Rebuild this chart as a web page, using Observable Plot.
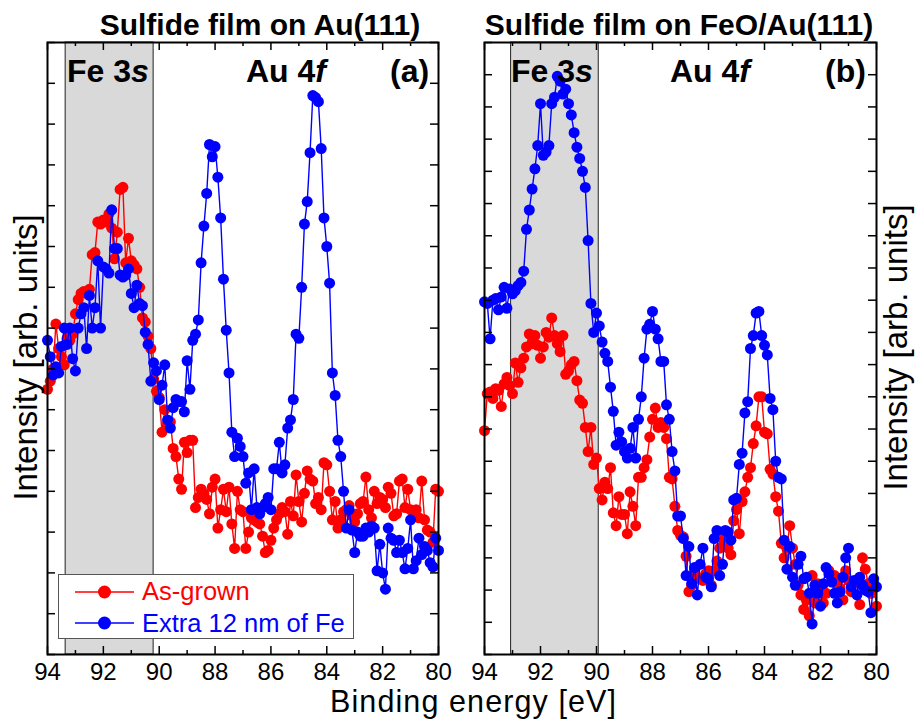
<!DOCTYPE html>
<html><head><meta charset="utf-8">
<script src="https://cdn.jsdelivr.net/npm/d3@7"></script>
<script src="https://cdn.jsdelivr.net/npm/@observablehq/plot@0.6"></script>
<style>
body{margin:0;background:#fff;font-family:"Liberation Sans",Arial,sans-serif;}
#wrap{position:relative;width:915px;height:719px;overflow:hidden;background:#fff;}
.abs{position:absolute;line-height:1;white-space:nowrap;color:#000;}
</style></head><body><div id="wrap"></div>
<script>
// Binding energy grid (eV)
const energy = [
 94.0,93.9,93.8,93.7,93.6,93.5,93.4,93.3,93.2,93.1,
 93.0,92.9,92.8,92.7,92.6,92.5,92.4,92.3,92.2,92.1,
 92.0,91.9,91.8,91.7,91.6,91.5,91.4,91.3,91.2,91.1,
 91.0,90.9,90.8,90.7,90.6,90.5,90.4,90.3,90.2,90.1,
 90.0,89.9,89.8,89.7,89.6,89.5,89.4,89.3,89.2,89.1,
 89.0,88.9,88.8,88.7,88.6,88.5,88.4,88.3,88.2,88.1,
 88.0,87.9,87.8,87.7,87.6,87.5,87.4,87.3,87.2,87.1,
 87.0,86.9,86.8,86.7,86.6,86.5,86.4,86.3,86.2,86.1,
 86.0,85.9,85.8,85.7,85.6,85.5,85.4,85.3,85.2,85.1,
 85.0,84.9,84.8,84.7,84.6,84.5,84.4,84.3,84.2,84.1,
 84.0,83.9,83.8,83.7,83.6,83.5,83.4,83.3,83.2,83.1,
 83.0,82.9,82.8,82.7,82.6,82.5,82.4,82.3,82.2,82.1,
 82.0,81.9,81.8,81.7,81.6,81.5,81.4,81.3,81.2,81.1,
 81.0,80.9,80.8,80.7,80.6,80.5,80.4,80.3,80.2,80.1,
 80.0];

// Panel (a): Sulfide film on Au(111)
const asGrownA = [
 6.5,6.7,7.0,8.1,7.5,7.3,7.1,7.75,7.7,7.85,
 8.35,8.7,8.85,8.9,8.85,8.95,9.8,9.85,10.6,10.55,
 10.65,10.6,10.8,10.45,9.7,10.35,11.4,11.45,9.6,10.2,
 9.65,9.55,9.45,9.0,8.25,8.15,7.8,7.5,6.75,6.45,
 6.3,5.45,6.0,5.65,5.7,5.05,4.85,4.3,4.05,5.2,
 4.95,5.25,5.25,3.6,3.85,4.05,3.95,3.8,3.45,4.1,
 4.3,3.1,3.55,4.05,3.5,4.1,3.2,2.6,4.0,3.55,
 3.5,2.6,3.0,3.35,3.3,3.25,3.2,2.9,2.5,2.55,
 2.8,3.1,3.3,3.45,3.6,3.5,2.95,3.75,3.4,4.4,
 3.75,3.25,3.95,4.5,4.3,4.25,3.7,3.85,3.55,4.7,
 4.65,4.0,3.3,3.75,3.1,3.3,3.5,3.55,3.65,3.4,
 3.25,3.45,3.7,3.75,4.35,3.55,3.35,4.0,3.7,3.85,
 3.8,3.6,4.1,3.95,3.4,3.45,4.25,4.3,3.6,4.05,
 3.55,3.5,3.55,3.35,4.25,3.3,3.05,3.0,2.75,4.05,
 4.0];
const extraFeA = [
 7.7,7.3,6.85,7.05,6.9,7.55,8.0,7.6,8.0,7.25,
 6.95,8.0,8.35,8.5,7.5,8.8,8.0,8.5,9.65,8.0,
 9.5,9.45,9.35,10.9,9.95,9.95,9.3,9.25,9.3,9.45,
 8.85,8.5,9.05,8.6,8.55,7.9,7.6,6.7,7.15,6.95,
 6.25,6.6,7.1,5.75,5.55,6.05,6.25,6.2,6.2,5.95,
 7.2,6.5,7.7,7.85,8.2,9.6,10.5,11.3,12.5,12.2,
 12.45,11.7,10.7,9.2,7.95,6.9,5.45,4.85,5.3,5.1,
 4.85,4.2,4.45,3.55,4.55,3.6,3.45,3.6,3.7,3.85,
 3.55,4.55,4.55,5.2,4.45,4.65,5.55,5.75,6.25,7.85,
 7.75,9.0,10.55,11.1,12.3,13.7,13.65,13.55,12.4,10.7,
 10.0,9.1,6.9,6.35,5.25,4.85,4.0,3.1,3.55,3.05,
 2.5,3.0,2.9,2.9,3.1,3.0,3.15,3.1,2.05,2.7,
 2.0,1.6,3.1,2.85,2.8,2.5,2.8,2.5,2.1,2.6,
 3.3,2.1,2.3,2.85,2.45,2.65,2.55,2.25,2.15,2.85,
 2.55];

// Panel (b): Sulfide film on FeO/Au(111)
const asGrownB = [
 6.95,8.1,8.15,7.95,8.25,8.2,7.7,8.4,8.6,8.35,
 8.1,9.05,8.45,8.9,9.2,9.55,9.95,9.65,9.9,9.6,
 9.2,9.55,10.0,9.85,10.45,9.9,9.65,9.4,9.9,8.7,
 8.8,9.0,9.1,8.5,7.9,7.8,7.05,6.3,7.05,5.9,
 6.1,5.15,4.8,5.35,5.15,5.8,4.4,4.0,4.9,4.35,
 4.35,3.75,5.05,4.6,4.0,5.5,5.5,5.8,6.05,6.75,
 7.3,7.65,7.05,7.2,7.05,6.7,5.5,5.45,4.6,3.85,
 3.7,3.65,3.05,1.95,2.15,2.6,2.4,2.35,2.3,2.5,
 2.6,2.15,2.6,2.9,3.3,3.6,3.4,3.3,3.1,4.15,
 4.5,3.75,4.75,5.05,5.5,5.8,6.55,7.1,8.0,8.0,
 6.9,6.85,5.75,5.6,4.9,4.45,3.45,3.0,3.3,4.0,
 3.3,2.8,2.15,1.85,1.4,1.7,1.2,2.45,1.6,2.2,
 2.0,1.6,1.9,2.6,2.3,2.45,2.2,2.05,1.7,2.6,
 2.3,1.95,2.25,2.25,1.55,3.0,2.65,2.2,1.9,2.2,
 1.5];
const extraFeB = [
 10.95,10.9,9.8,11.0,11.05,10.7,11.1,11.4,10.75,11.35,
 11.2,11.3,11.45,11.55,11.9,13.2,13.8,14.45,15.08,15.8,
 17.1,15.5,15.6,15.8,17.1,17.3,17.95,17.8,17.4,17.55,
 17.1,16.75,16.2,15.75,15.4,15.0,14.5,12.85,10.9,10.0,
 10.6,10.2,9.7,9.35,9.1,8.3,7.55,6.5,6.9,6.6,
 6.3,6.1,6.4,7.05,6.1,7.3,8.0,9.2,10.1,10.25,
 10.65,10.1,9.8,9.1,9.1,7.75,7.3,6.3,5.7,4.3,
 4.3,3.6,2.45,3.35,2.2,2.7,1.85,2.8,3.3,2.4,
 2.35,2.1,3.6,3.85,2.45,2.8,3.85,3.8,3.55,4.8,
 4.85,5.9,6.25,7.5,7.85,9.5,9.9,10.6,10.65,9.9,
 9.6,9.3,7.95,7.6,6.0,5.5,5.45,3.55,2.65,3.35,
 2.4,2.15,2.8,3.05,2.35,2.4,1.9,0.95,2.15,1.9,
 1.5,2.2,2.7,2.5,2.25,1.9,1.6,1.95,2.4,3.0,
 3.3,2.1,2.3,1.85,2.4,2.15,2.0,1.95,1.3,2.35,
 2.1];

const xTicksMajor = [94, 92, 90, 88, 86, 84, 82, 80];
const xTicksMinor = [93, 91, 89, 87, 85, 83, 81];
const yTicksA = [0,1,2,3,4,5,6,7,8,9,10,11,12,13,14,15];
const yTicksB = [0,1,2,3,4,5,6,7,8,9,10,11,12,13,14,15,16,17,18,19];
const shadeA = [{from: 93.35, to: 90.2}];
const shadeB = [{from: 93.05, to: 89.92}];
const seriesNames = ["As-grown", "Extra 12 nm of Fe"];
const seriesColors = ["#ff0000", "#0000ff"];

function panel({asGrown, extra, yTicks, shade, width, marginLeft, marginRight}) {
  const H = 719, mt = 42, mb = 65;
  const innerH = H - mt - mb;
  const innerW = width - marginLeft - marginRight;
  const red = energy.map((e, i) => ({e, v: asGrown[i]}));
  const blue = energy.map((e, i) => ({e, v: extra[i]}));
  return Plot.plot({
    width, height: H, marginLeft, marginRight, marginTop: mt, marginBottom: mb,
    style: "font-family:'Liberation Sans',Arial,sans-serif;font-size:24px;background:white;color:black;overflow:visible;",
    x: {domain: [94, 80], ticks: xTicksMajor, tickSize: 0, tickPadding: 8, tickFormat: d => String(d), label: null},
    y: {domain: [yTicks[0], yTicks[yTicks.length - 1]], axis: null},
    marks: [
      Plot.rect(shade, {x1: "from", x2: "to", fill: "#d9d9d9", stroke: "#222", strokeWidth: 1}),
      Plot.line(red, {x: "e", y: "v", stroke: seriesColors[0], strokeWidth: 1.4}),
      Plot.dot(red, {x: "e", y: "v", fill: seriesColors[0], r: 5.5}),
      Plot.line(blue, {x: "e", y: "v", stroke: seriesColors[1], strokeWidth: 1.4}),
      Plot.dot(blue, {x: "e", y: "v", fill: seriesColors[1], r: 5.5}),
      Plot.tickX(xTicksMajor, {x: d => d, insetTop: innerH - 8, stroke: "#000", strokeWidth: 1.5}),
      Plot.tickX(xTicksMajor, {x: d => d, insetBottom: innerH - 8, stroke: "#000", strokeWidth: 1.5}),
      Plot.tickX(xTicksMinor, {x: d => d, insetTop: innerH - 4, stroke: "#000", strokeWidth: 1.5}),
      Plot.tickX(xTicksMinor, {x: d => d, insetBottom: innerH - 4, stroke: "#000", strokeWidth: 1.5}),
      Plot.tickY(yTicks, {y: d => d, insetRight: innerW - 8, stroke: "#000", strokeWidth: 1.5}),
      Plot.tickY(yTicks, {y: d => d, insetLeft: innerW - 8, stroke: "#000", strokeWidth: 1.5}),
      Plot.frame({stroke: "#000", strokeWidth: 2})
    ]
  });
}

const wrap = document.getElementById("wrap");
const pa = panel({asGrown: asGrownA, extra: extraFeA, yTicks: yTicksA, shade: shadeA, width: 458, marginLeft: 47, marginRight: 20});
pa.style.position = "absolute"; pa.style.left = "0px"; pa.style.top = "0px";
wrap.appendChild(pa);
const pb = panel({asGrown: asGrownB, extra: extraFeB, yTicks: yTicksB, shade: shadeB, width: 457, marginLeft: 26, marginRight: 39});
pb.style.position = "absolute"; pb.style.left = "458px"; pb.style.top = "0px";
wrap.appendChild(pb);

function addText(html, css) {
  const d = document.createElement("div");
  d.className = "abs";
  d.innerHTML = html;
  Object.assign(d.style, css);
  wrap.appendChild(d);
  return d;
}
// Titles
addText("Sulfide film on Au(111)", {left: "0px", width: "520px", textAlign: "center", top: "9.6px", fontSize: "30px", fontWeight: "bold"});
addText("Sulfide film on FeO/Au(111)", {left: "379px", width: "600px", textAlign: "center", top: "9.6px", fontSize: "30px", fontWeight: "bold"});
// Panel annotations
const ann = {fontSize: "32px", fontWeight: "bold", top: "55px"};
addText("Fe 3<i>s</i>", {...ann, left: "67px"});
addText("Au 4<i>f</i>", {...ann, left: "246px"});
addText("(a)", {...ann, left: "390px"});
addText("Fe 3<i>s</i>", {...ann, left: "511px"});
addText("Au 4<i>f</i>", {...ann, left: "670px"});
addText("(b)", {...ann, left: "825px"});
// Axis labels
addText("Binding energy [eV]", {left: "330px", top: "686.2px", fontSize: "30.5px", letterSpacing: "1.1px"});
addText("Intensity [arb. units]", {left: (24.6 - 160) + "px", width: "320px", textAlign: "center", top: (357 - 16.5) + "px", fontSize: "33px", transform: "rotate(-90deg)"});
addText("Intensity [arb. units]", {left: (894.6 - 160) + "px", width: "320px", textAlign: "center", top: (347 - 16.5) + "px", fontSize: "33px", transform: "rotate(-90deg)"});

// Legend
const leg = document.createElement("div");
Object.assign(leg.style, {position: "absolute", left: "58px", top: "574px", width: "296px", height: "65px", boxSizing: "border-box", border: "1.5px solid #555", background: "#fff"});
const ns = "http://www.w3.org/2000/svg";
seriesNames.forEach((name, i) => {
  const cy = i === 0 ? 17 : 48;
  const s = document.createElementNS(ns, "svg");
  s.setAttribute("width", "80"); s.setAttribute("height", "20");
  Object.assign(s.style, {position: "absolute", left: "10px", top: (cy - 10) + "px"});
  const ln = document.createElementNS(ns, "line");
  ln.setAttribute("x1", "6"); ln.setAttribute("x2", "65"); ln.setAttribute("y1", "10"); ln.setAttribute("y2", "10");
  ln.setAttribute("stroke", seriesColors[i]); ln.setAttribute("stroke-width", "1.5");
  const c = document.createElementNS(ns, "circle");
  c.setAttribute("cx", "35.5"); c.setAttribute("cy", "10"); c.setAttribute("r", "6.5"); c.setAttribute("fill", seriesColors[i]);
  s.appendChild(ln); s.appendChild(c);
  leg.appendChild(s);
  const t = document.createElement("div");
  t.className = "abs";
  t.textContent = name;
  Object.assign(t.style, {left: "83px", top: (i === 0 ? 3.8 : 35.8) + "px", fontSize: "25.5px", color: seriesColors[i]});
  leg.appendChild(t);
});
wrap.appendChild(leg);
</script>
</body></html>
